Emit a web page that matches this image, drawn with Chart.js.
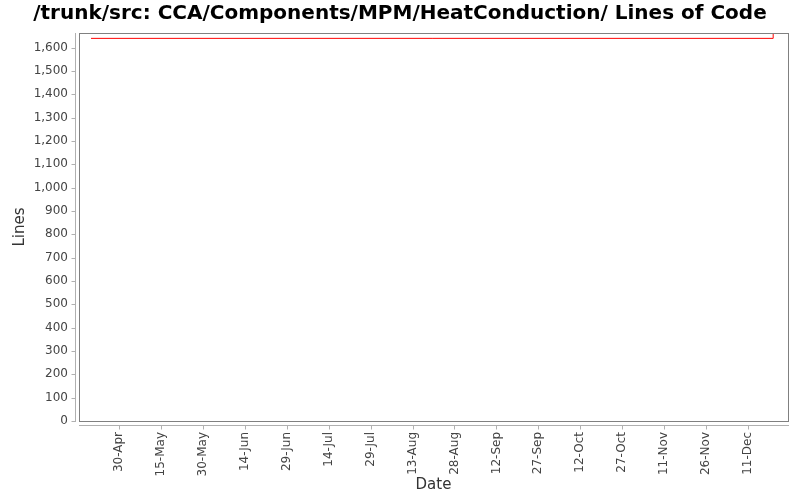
<!DOCTYPE html>
<html>
<head>
<meta charset="utf-8">
<script src="https://cdn.jsdelivr.net/npm/chart.js@4/dist/chart.umd.min.js"></script>
<style>
  html, body { margin: 0; padding: 0; background: #fff; }
  #wrap { width: 800px; height: 500px; }
</style>
</head>
<body>
<div id="wrap"><canvas id="loc"></canvas></div>
<script>
// values
var fechas = ['2008-04-20', '2008-12-20'];
var lineas = [1640, 1663];
// tick labels on the date axis, every 15 days
var etiquetasX = ['30-Apr', '15-May', '30-May', '14-Jun', '29-Jun', '14-Jul', '29-Jul', '13-Aug',
                  '28-Aug', '12-Sep', '27-Sep', '12-Oct', '27-Oct', '11-Nov', '26-Nov', '11-Dec'];
var inicio = '2008-04-30';
var yMax = 1663;

var DIA = 86400000;
function dias(f) {
    return (Date.parse(f) - Date.parse(inicio)) / DIA;
}

var puntos = fechas.map(function(f, i) {
    return {x: dias(f), y: lineas[i]};
});

// gray box round the plot, axis lines and tick marks a bit outside it
var marco = {
    id: 'marco',
    afterDraw: function(chart) {
        var a = chart.chartArea, ctx = chart.ctx;
        var L = Math.round(a.left), T = Math.round(a.top), R = Math.round(a.right), B = Math.round(a.bottom);
        ctx.save();
        ctx.strokeStyle = '#808080';
        ctx.lineWidth = 1;
        ctx.strokeRect(L + 0.5, T + 0.5, R - L, B - T);
        ctx.strokeStyle = '#b0b0b0';
        ctx.beginPath();
        ctx.moveTo(L - 3.5, T);
        ctx.lineTo(L - 3.5, B + 1);
        ctx.moveTo(L, B + 4.5);
        ctx.lineTo(R + 1, B + 4.5);
        chart.scales.y.ticks.forEach(function(t) {
            var py = Math.round(chart.scales.y.getPixelForValue(t.value)) + 0.5;
            ctx.moveTo(L - 3.5, py);
            ctx.lineTo(L - 7.5, py);
        });
        chart.scales.x.ticks.forEach(function(t) {
            var px = Math.round(chart.scales.x.getPixelForValue(t.value)) + 0.5;
            ctx.moveTo(px, B + 4.5);
            ctx.lineTo(px, B + 8.5);
        });
        ctx.stroke();
        ctx.restore();
    }
};

var config = {
    type: 'line',
    data: {
        datasets: [{
            label: 'Lines',
            data: puntos,
            stepped: true,
            borderColor: '#ff0000',
            borderWidth: 1,
            pointRadius: 0,
            fill: false
        }]
    },
    options: {
        responsive: true,
        maintainAspectRatio: false,
        animation: false,
        layout: { padding: 0 },
        plugins: {
            legend: { display: false },
            tooltip: { enabled: false },
            title: {
                display: true,
                text: '/trunk/src: CCA/Components/MPM/HeatConduction/ Lines of Code',
                color: '#000',
                font: { family: 'DejaVu Sans', size: 20, weight: 'bold', lineHeight: 1.2 },
                padding: { top: 2, bottom: 7 }
            }
        },
        scales: {
            x: {
                type: 'linear',
                min: dias(inicio) - 14.3,
                max: 239.3,
                afterBuildTicks: function(scale) {
                    scale.ticks = etiquetasX.map(function(t, i) { return {value: i * 15}; });
                },
                afterFit: function(scale) { scale.height = 79; },
                border: { display: false },
                grid: { display: false, drawTicks: false },
                ticks: {
                    autoSkip: false,
                    maxRotation: 90,
                    minRotation: 90,
                    padding: 11,
                    color: '#444',
                    font: { family: 'DejaVu Sans', size: 12 },
                    callback: function(v, i) { return etiquetasX[i]; }
                },
                title: {
                    display: true,
                    text: 'Date',
                    color: '#333',
                    font: { family: 'DejaVu Sans', size: 15 },
                    padding: { top: 0, bottom: 6 }
                }
            },
            y: {
                min: 0,
                max: yMax,
                afterBuildTicks: function(scale) {
                    scale.ticks = scale.ticks.filter(function(t) { return t.value % 100 === 0; });
                },
                afterFit: function(scale) { scale.width = 79; },
                border: { display: false },
                grid: { display: false, drawTicks: false },
                ticks: {
                    stepSize: 100,
                    padding: 11,
                    color: '#444',
                    font: { family: 'DejaVu Sans', size: 12 },
                    callback: function(v) { return v.toLocaleString('en-US'); }
                },
                title: {
                    display: true,
                    text: 'Lines',
                    color: '#333',
                    font: { family: 'DejaVu Sans', size: 15 },
                    padding: { top: 11, bottom: 0 }
                }
            },
            // empty strip on the right so the plot ends where it does in the picture
            derecha: {
                position: 'right',
                display: true,
                afterFit: function(scale) { scale.width = 12; },
                border: { display: false },
                grid: { display: false },
                ticks: { display: false }
            }
        }
    },
    plugins: [marco]
};

window.onload = function() {
    window.grafico = new Chart(document.getElementById('loc'), config);
};
</script>
</body>
</html>
